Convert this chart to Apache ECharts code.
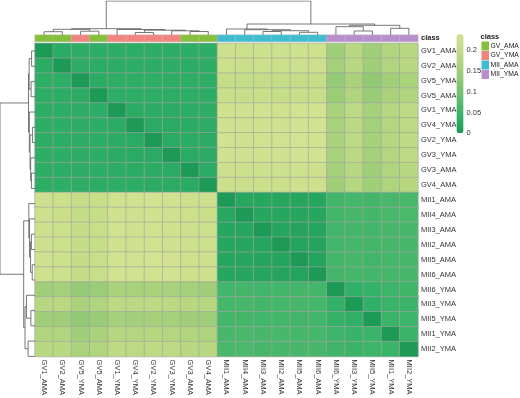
<!DOCTYPE html>
<html>
<head>
<meta charset="utf-8">
<script src="https://cdn.jsdelivr.net/npm/echarts@6/dist/echarts.min.js"></script>
<style>html,body{margin:0;padding:0;background:#fff}#chart{width:520px;height:398px}</style>
</head>
<body>
<div id="chart"></div>
<script>
const samples = ['GV1_AMA','GV2_AMA','GV5_YMA','GV5_AMA','GV1_YMA','GV4_YMA','GV2_YMA','GV3_YMA','GV3_AMA','GV4_AMA',
    'MII1_AMA','MII4_AMA','MII3_AMA','MII2_AMA','MII5_AMA','MII6_AMA',
    'MII6_YMA','MII3_YMA','MII5_YMA','MII1_YMA','MII2_YMA'];
const classNames = ['GV_AMA','GV_YMA','MII_AMA','MII_YMA'];
const classColors = ['#86bf3a','#f2847e','#3fbcd0','#b88ecb'];
// class of each sample (index into classNames)
const sampleClass = [0,0,1,0,1,1,1,1,0,0, 2,2,2,2,2,2, 3,3,3,3,3];

// lower triangle of the distance matrix (row i, columns 0..i)
const distLower = [
    [0],
    [0.030,0],
    [0.034,0.032,0],
    [0.033,0.031,0.030,0],
    [0.032,0.031,0.033,0.032,0],
    [0.033,0.032,0.034,0.033,0.029,0],
    [0.032,0.031,0.033,0.032,0.030,0.027,0],
    [0.033,0.032,0.034,0.033,0.030,0.028,0.028,0],
    [0.032,0.031,0.033,0.032,0.031,0.030,0.029,0.028,0],
    [0.033,0.032,0.034,0.031,0.032,0.031,0.030,0.029,0.027,0],
    [0.222,0.220,0.205,0.210,0.232,0.230,0.233,0.231,0.222,0.220, 0],
    [0.220,0.218,0.202,0.208,0.230,0.228,0.231,0.229,0.220,0.218, 0.022,0],
    [0.224,0.221,0.204,0.210,0.233,0.231,0.234,0.232,0.223,0.221, 0.020,0.021,0],
    [0.223,0.220,0.203,0.209,0.232,0.230,0.233,0.231,0.222,0.220, 0.021,0.020,0.019,0],
    [0.226,0.223,0.206,0.212,0.236,0.234,0.237,0.235,0.225,0.223, 0.019,0.020,0.018,0.017,0],
    [0.225,0.222,0.205,0.211,0.235,0.233,0.236,0.234,0.224,0.222, 0.020,0.021,0.019,0.018,0.016,0],
    [0.150,0.152,0.135,0.142,0.160,0.158,0.160,0.158,0.152,0.150, 0.055,0.056,0.054,0.055,0.056,0.057, 0],
    [0.180,0.182,0.160,0.170,0.188,0.186,0.188,0.186,0.180,0.178, 0.058,0.060,0.057,0.058,0.060,0.058, 0.040,0],
    [0.148,0.150,0.130,0.140,0.155,0.153,0.156,0.154,0.150,0.148, 0.056,0.057,0.055,0.056,0.054,0.055, 0.042,0.038,0],
    [0.170,0.172,0.150,0.160,0.178,0.176,0.178,0.176,0.170,0.168, 0.060,0.062,0.060,0.061,0.058,0.059, 0.050,0.047,0.048,0],
    [0.180,0.182,0.162,0.172,0.190,0.188,0.190,0.188,0.182,0.180, 0.062,0.063,0.061,0.060,0.060,0.061, 0.052,0.049,0.050,0.048,0]
];

// hclust style merges: negative = leaf -(index+1), positive = earlier merge (1-based), then height
const merges = [
    [-15,-16,2.7], [-13,-14,3.5], [2,1,4.3], [-12,3,5.3], [-11,4,6.0],
    [-18,-19,4.0], [-17,6,8.3], [-20,-21,6.7], [7,8,9.7], [5,9,11],
    [-1,-2,3.3], [-3,-4,3.8], [11,12,5.7], [-6,-7,2.5], [-9,-10,3.5],
    [-8,15,4.2], [14,16,4.8], [-5,17,5.5], [13,18,6.3], [19,10,34]
];

const colorStops = ['#1c9a56','#31b168','#5dbd6d','#88c672','#a8d27b','#c3dc86','#d3e391'];
const colorMax = 0.238;

const n = samples.length;
const dist = (i, j) => i >= j ? distLower[i][j] : distLower[j][i];

const heatData = [];
for (let i = 0; i < n; i++) {
    for (let j = 0; j < n; j++) {
        heatData.push([j, i, dist(i, j)]);
    }
}
const classData = sampleClass.map((c, i) => [i, 0, c]);

// dendrogram segments in (position, height) units
const nodes = [];
const segs = [];
const nodeOf = (k) => k < 0 ? {pos: -k - 1 + 0.5, h: 0} : nodes[k - 1];
merges.forEach(m => {
    const a = nodeOf(m[0]), b = nodeOf(m[1]), h = m[2];
    segs.push([[a.pos, a.h], [a.pos, h], [b.pos, h], [b.pos, b.h]]);
    nodes.push({pos: (a.pos + b.pos) / 2, h: h});
});

const font = 'Liberation Sans, Arial, sans-serif';
const L = 35, T = 43.3, W = 383, H = 320.7;
const lineStyle = {color: '#555', width: 0.8, opacity: 1};

const chart = echarts.init(document.getElementById('chart'));
chart.setOption({
    animation: false,
    textStyle: {fontFamily: font},
    title: {text: 'class', left: 480.5, top: 32.5, padding: 0,
        textStyle: {fontSize: 7.5, fontWeight: 'bold', color: '#222', fontFamily: font}},
    grid: [
        {left: L, top: T, width: W, height: H},
        {left: L, top: 35, width: W, height: 6.6},
        {left: L, top: 1, width: W, height: 34},
        {left: 0, top: T, width: 35, height: H},
        {left: 456.5, top: 34.3, width: 7, height: 99}
    ],
    xAxis: [
        {type: 'category', gridIndex: 0, data: samples, axisLine: {show: false}, axisTick: {show: false},
            axisLabel: {rotate: -90, fontSize: 7.5, margin: 3, color: '#333', interval: 0}},
        {type: 'category', gridIndex: 1, data: samples, show: false},
        {type: 'value', gridIndex: 2, min: 0, max: n, show: false},
        {type: 'value', gridIndex: 3, min: 0, max: 34, inverse: true, show: false},
        {type: 'value', gridIndex: 4, show: false}
    ],
    yAxis: [
        {type: 'category', gridIndex: 0, data: samples, inverse: true, position: 'right',
            axisLine: {show: false}, axisTick: {show: false},
            axisLabel: {fontSize: 7.5, margin: 3, color: '#333', interval: 0}},
        {type: 'category', gridIndex: 1, data: ['class'], position: 'right',
            axisLine: {show: false}, axisTick: {show: false},
            axisLabel: {fontSize: 7.5, margin: 3, color: '#222', fontWeight: 'bold'}},
        {type: 'value', gridIndex: 2, min: 0, max: 34, show: false},
        {type: 'value', gridIndex: 3, min: 0, max: n, inverse: true, show: false},
        {type: 'value', gridIndex: 4, min: 0, max: colorMax, interval: 0.05, position: 'right',
            axisLine: {show: false}, axisTick: {show: false}, splitLine: {show: false},
            axisLabel: {fontSize: 7.5, margin: 3, color: '#333', showMaxLabel: false}}
    ],
    visualMap: [
        {type: 'continuous', seriesIndex: 0, min: 0, max: colorMax, calculable: false, hoverLink: false,
            left: 456.5, top: 34.3, itemWidth: 7, itemHeight: 99, padding: 0, text: null,
            inRange: {color: colorStops}},
        {type: 'piecewise', seriesIndex: 1, inverse: true, selectedMode: false, hoverLink: false,
            left: 481.5, top: 41.5, itemWidth: 7.5, itemHeight: 9, itemGap: 0.5, itemSymbol: 'rect', textGap: 1.5,
            align: 'left', padding: 0, textStyle: {fontSize: 6.8, color: '#222'},
            pieces: classNames.map((c, i) => ({value: i, label: c, color: classColors[i]}))}
    ],
    series: [
        {type: 'heatmap', xAxisIndex: 0, yAxisIndex: 0, data: heatData,
            itemStyle: {borderColor: '#a2a2a2', borderWidth: 0.6}, emphasis: {disabled: true}},
        {type: 'heatmap', xAxisIndex: 1, yAxisIndex: 1, data: classData,
            itemStyle: {borderColor: '#c8c8c8', borderWidth: 0.4}, emphasis: {disabled: true}},
        {type: 'lines', coordinateSystem: 'cartesian2d', xAxisIndex: 2, yAxisIndex: 2, polyline: true,
            lineStyle: lineStyle, silent: true,
            data: segs.map(s => ({coords: s}))},
        {type: 'lines', coordinateSystem: 'cartesian2d', xAxisIndex: 3, yAxisIndex: 3, polyline: true,
            lineStyle: lineStyle, silent: true,
            data: segs.map(s => ({coords: s.map(p => [p[1], p[0]])}))}
    ]
});
</script>
</body>
</html>
